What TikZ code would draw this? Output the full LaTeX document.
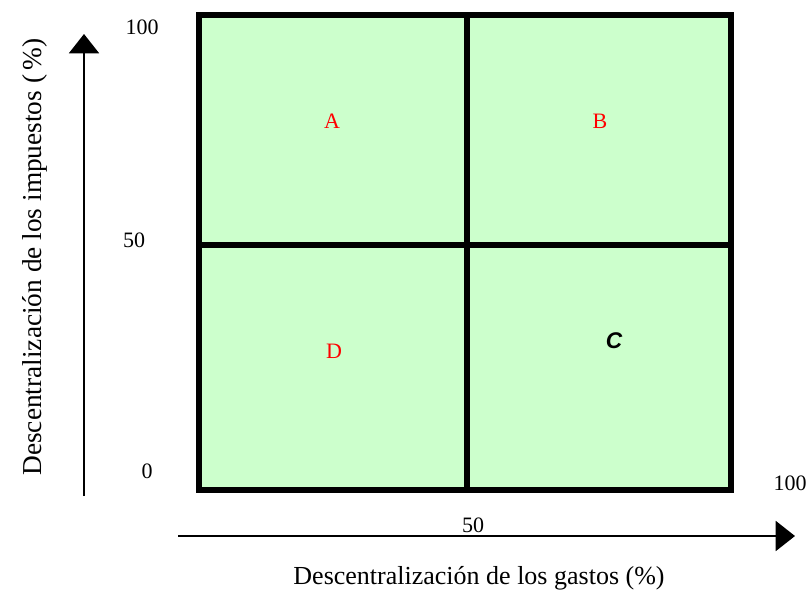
\documentclass[tikz,border=0pt]{standalone}
\usepackage{fontspec}
\setmainfont{Liberation Serif}
\newfontfamily\arialfont{Liberation Sans}
\usetikzlibrary{arrows.meta}
\definecolor{boxgreen}{HTML}{CCFFCC}
\definecolor{labred}{HTML}{FF0000}
\tikzset{
  gridline/.style={line width=4.5pt, line cap=rect},
  axis/.style={line width=1.5pt, -{Triangle[length=14.5pt,width=22.5pt]}},
  lab/.style={font=\fontsize{16.5}{19}\selectfont, inner sep=0pt},
  axlab/.style={font=\fontsize{19.5}{23}\selectfont, inner sep=0pt},
  quad/.style={font=\fontsize{16.5}{19}\selectfont, text=labred, inner sep=0pt},
}
\begin{document}
\begin{tikzpicture}[x=0.75pt,y=-0.75pt]
\useasboundingbox (0,0) rectangle (809,592);
\fill[boxgreen] (199,15) rectangle (730.5,490);
\draw[gridline] (199,15) rectangle (730.5,490);
\draw[gridline] (467,15) -- (467,490);
\draw[gridline] (199,245) -- (730.5,245);
\coordinate (ys) at (84,496);
\coordinate (ye) at (84,34);
\coordinate (xs) at (178,536);
\coordinate (xe) at (795,536);
\draw[axis] (ys) -- (ye);
\draw[axis] (xs) -- (xe);
\node[lab] (y100) at (142,27) {100};
\node[lab] (y50) at (134,240) {50};
\node[lab] (y0) at (147,471) {0};
\node[lab] (x100) at (790,483) {100};
\node[lab] (x50) at (473,525) {50};
\node[quad] (A) at (332,121) {A};
\node[quad] (B) at (600,121) {B};
\node[quad] (D) at (334,351) {D};
\node[lab, font=\arialfont\bfseries\itshape\fontsize{17}{19}\selectfont] (C) at (614,341) {C};
\node[axlab, rotate=90, font=\fontsize{20.5}{24}\selectfont] (ylab) at (35,257) {Descentralización de los impuestos (\,\%)};
\node[axlab] (xlab) at (479,578) {Descentralización de los gastos (\%)};
\end{tikzpicture}
\end{document}
